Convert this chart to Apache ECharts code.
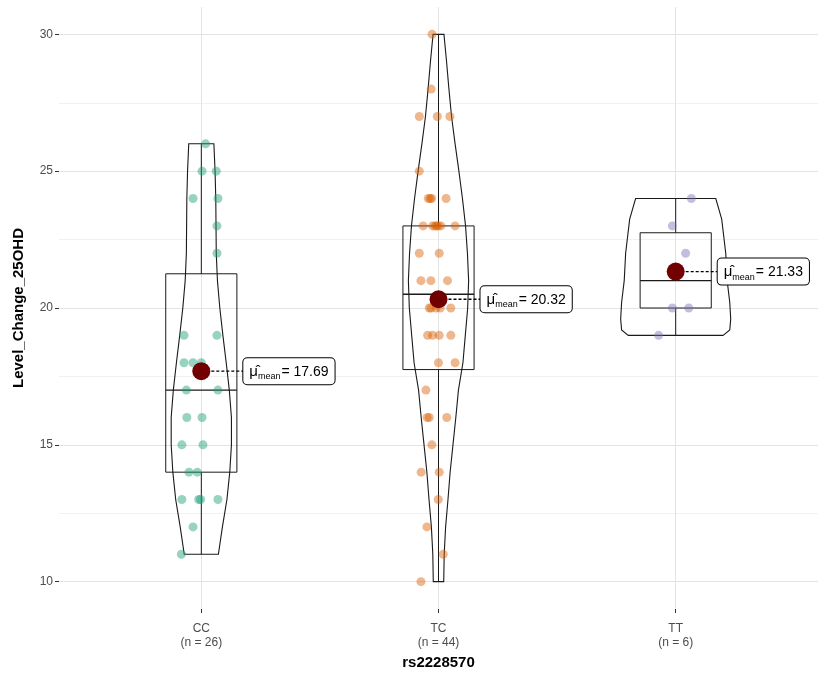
<!DOCTYPE html>
<html>
<head>
<meta charset="utf-8">
<script src="https://cdn.jsdelivr.net/npm/echarts@6.0.0/dist/echarts.min.js"></script>
<style>
html,body{margin:0;padding:0;background:#fff;}
#main{width:829px;height:679px;}
</style>
</head>
<body>
<div id="main"></div>
<script>
// groups
var groups = ['CC', 'TC', 'TT'];
var groupN = [26, 44, 6];
var colors = ['#1B9E77', '#D95F02', '#7570B3'];

// points (values + horizontal jitter, in category units)
var ccVal = [26, 25, 25, 24, 24, 23, 22, 19, 19, 18, 18, 18, 17, 17, 16, 16, 15, 15, 14, 14, 13, 13, 13, 13, 12, 11];
var ccJit = [0.018, 0.003, 0.063, -0.035, 0.070, 0.066, 0.066, -0.073, 0.066, -0.073, -0.035, 0, -0.063, 0.070, -0.061, 0.003, -0.082, 0.007, -0.052, -0.017, -0.082, -0.011, -0.003, 0.070, -0.035, -0.084];

var tcVal = [30, 28, 27, 27, 27, 25, 24, 24, 24, 24, 23, 23, 23, 23, 23, 23, 23, 22, 22, 21, 21, 21, 20, 20, 20, 20, 20, 19, 19, 19, 19, 18, 18, 17, 16, 16, 16, 15, 14, 14, 13, 12, 11, 10];
var tcJit = [-0.027, -0.031, -0.081, -0.005, 0.048, -0.081, -0.043, -0.035, -0.029, 0.032, -0.065, -0.025, -0.014, -0.001, 0.010, 0.070, -0.008, -0.081, 0.003, -0.074, -0.032, 0.038, -0.039, -0.031, -0.010, 0.007, 0.052, -0.046, -0.025, 0.003, 0.052, 0, 0.070, -0.053, -0.048, -0.039, 0.035, -0.028, -0.073, 0.003, -0.001, -0.049, 0.020, -0.074];

var ttVal = [24, 23, 22, 20, 20, 19];
var ttJit = [0.066, -0.014, 0.042, -0.014, 0.055, -0.072];

// box stats: min, q1, median, q3, max
var boxStats = [
	[11, 14, 17, 21.25, 26],
	[10, 17.75, 20.5, 23, 30],
	[19, 20, 21, 22.75, 24]
];
var means = [17.69, 20.32, 21.33];

// violin outlines: y value and half width (category units)
var ccViolinY = [11, 12, 13, 14, 15, 16, 17, 18, 19, 20, 21, 22, 23, 24, 25, 26];
var ccViolinW = [0.072, 0.089, 0.108, 0.120, 0.127, 0.127, 0.118, 0.105, 0.091, 0.078, 0.068, 0.063, 0.062, 0.061, 0.058, 0.053];
var tcViolinY = [10, 11, 12, 13, 14, 15, 16, 17, 18, 19, 20, 21, 22, 23, 24, 25, 26, 27, 28, 29, 30];
var tcViolinW = [0.022, 0.024, 0.030, 0.040, 0.049, 0.061, 0.073, 0.084, 0.103, 0.113, 0.123, 0.127, 0.122, 0.114, 0.101, 0.086, 0.070, 0.055, 0.044, 0.034, 0.023];
var ttViolinY = [19, 19.2, 19.6, 20.2, 21, 22, 23.25, 24];
var ttViolinW = [0.200, 0.228, 0.232, 0.228, 0.217, 0.211, 0.194, 0.169];

var yTicks = [10, 15, 20, 25, 30];
var yMinor = [12.5, 17.5, 22.5, 27.5];

var allVal = [ccVal, tcVal, ttVal];
var allJit = [ccJit, tcJit, ttJit];
var violinY = [ccViolinY, tcViolinY, ttViolinY];
var violinW = [ccViolinW, tcViolinW, ttViolinW];

var FONT = 'Liberation Sans';

function violinItem(params, api){
	var i = params.dataIndex;
	var ys = violinY[i], ws = violinW[i];
	var pts = [];
	for(var k = 0; k < ys.length; k++){
		pts.push(api.coord([i + 1 + ws[k], ys[k]]));
	}
	for(var k = ys.length - 1; k >= 0; k--){
		pts.push(api.coord([i + 1 - ws[k], ys[k]]));
	}
	return {
		type : 'polygon',
		shape : { points : pts },
		style : { fill : 'transparent', stroke : '#1a1a1a', lineWidth : 1.1 }
	};
}

function boxItem(params, api){
	var i = params.dataIndex, s = boxStats[i], x = i + 1, hw = 0.15;
	var lt = api.coord([x - hw, s[3]]);
	var rb = api.coord([x + hw, s[1]]);
	var m0 = api.coord([x - hw, s[2]]);
	var m1 = api.coord([x + hw, s[2]]);
	var t0 = api.coord([x, s[3]]), t1 = api.coord([x, s[4]]);
	var b0 = api.coord([x, s[1]]), b1 = api.coord([x, s[0]]);
	var ls = { stroke : '#1a1a1a', lineWidth : 1 };
	return {
		type : 'group',
		children : [
			{ type : 'rect', shape : { x : lt[0], y : lt[1], width : rb[0] - lt[0], height : rb[1] - lt[1] }, style : { fill : 'transparent', stroke : '#1a1a1a', lineWidth : 1 } },
			{ type : 'line', shape : { x1 : m0[0], y1 : m0[1], x2 : m1[0], y2 : m1[1] }, style : { stroke : '#1a1a1a', lineWidth : 1.4 } },
			{ type : 'line', shape : { x1 : t0[0], y1 : t0[1], x2 : t1[0], y2 : t1[1] }, style : ls },
			{ type : 'line', shape : { x1 : b0[0], y1 : b0[1], x2 : b1[0], y2 : b1[1] }, style : ls }
		]
	};
}

function meanLabelItem(params, api){
	var i = params.dataIndex;
	var p = api.coord([i + 1, means[i]]);
	var gap = 42;
	return {
		type : 'group',
		children : [
			{ type : 'line', shape : { x1 : p[0], y1 : p[1], x2 : p[0] + gap, y2 : p[1] }, style : { stroke : '#000', lineWidth : 1.3, lineDash : [3, 2] } },
			{
				type : 'text',
				x : p[0] + gap, y : p[1],
				style : {
					text : '{mu|\u03bc\u0302}{sub|mean}{eq|= ' + means[i].toFixed(2) + '}',
					align : 'left',
					verticalAlign : 'middle',
					backgroundColor : '#fff',
					borderColor : '#000',
					borderWidth : 1,
					borderRadius : 4,
					padding : [4, 6, 3, 6],
					rich : {
						mu : { fontFamily : FONT, fontSize : 15, color : '#000', lineHeight : 19 },
						sub : { fontFamily : FONT, fontSize : 9, color : '#000', verticalAlign : 'bottom', lineHeight : 14, padding : [7, 1, 0, 0] },
						eq : { fontFamily : FONT, fontSize : 14, color : '#000', lineHeight : 19 }
					}
				}
			}
		]
	};
}

var series = [];
series.push({
	type : 'custom', name : 'violin', renderItem : violinItem,
	data : [[1, 20], [2, 20], [3, 20]], z : 1, silent : true
});
series.push({
	type : 'custom', name : 'box', renderItem : boxItem,
	data : [[1, 20], [2, 20], [3, 20]], z : 2, silent : true
});
for(var g = 0; g < groups.length; g++){
	var d = [];
	for(var k = 0; k < allVal[g].length; k++){
		d.push([g + 1 + allJit[g][k], allVal[g][k]]);
	}
	series.push({
		type : 'scatter', name : groups[g], data : d, symbolSize : 9, z : 3,
		itemStyle : { color : colors[g], opacity : 0.45 }
	});
}
var meanData = [];
for(var g = 0; g < means.length; g++){
	meanData.push([g + 1, means[g]]);
}
series.push({
	type : 'scatter', name : 'mean', data : meanData, symbolSize : 18, z : 5,
	itemStyle : { color : '#720000', opacity : 1 }
});
series.push({
	type : 'custom', name : 'meanLabel', renderItem : meanLabelItem,
	data : [[1, 20], [2, 20], [3, 20]], z : 4, silent : true
});

var myChart = echarts.init(document.getElementById('main'));
var option = {
	animation : false,
	backgroundColor : '#fff',
	grid : { left : 59, right : 11, top : 7, bottom : 70 },
	xAxis : {
		type : 'value', min : 0.4, max : 3.6,
		name : 'rs2228570', nameLocation : 'middle', nameGap : 40,
		nameTextStyle : { fontFamily : FONT, fontSize : 15, fontWeight : 'bold', color : '#000' },
		axisLine : { show : false },
		axisTick : { show : true, customValues : [1, 2, 3], length : 4, lineStyle : { color : '#333' } },
		axisLabel : {
			customValues : [1, 2, 3], margin : 13,
			fontFamily : FONT, fontSize : 12, lineHeight : 14, color : '#4d4d4d',
			formatter : function(v){
				var i = Math.round(v) - 1;
				return groups[i] + '\n(n = ' + groupN[i] + ')';
			}
		},
		splitLine : { show : true, lineStyle : { color : '#e3e3e3', width : 1 } }
	},
	yAxis : [{
		type : 'value', min : 9, max : 31,
		name : 'Level_Change_25OHD', nameLocation : 'middle', nameGap : 33, nameRotate : 90,
		nameTextStyle : { fontFamily : FONT, fontSize : 15, fontWeight : 'bold', color : '#000' },
		axisLine : { show : false },
		axisTick : { show : true, customValues : yTicks, length : 4, lineStyle : { color : '#333' } },
		axisLabel : { customValues : yTicks, fontFamily : FONT, fontSize : 12, color : '#4d4d4d', margin : 6 },
		splitLine : { show : true, lineStyle : { color : '#e3e3e3', width : 1 } }
	}, {
		type : 'value', min : 9, max : 31, position : 'left',
		axisLine : { show : false },
		axisTick : { show : false, customValues : yMinor },
		axisLabel : { show : false, customValues : yMinor },
		splitLine : { show : true, lineStyle : { color : '#ededed', width : 0.8 } }
	}],
	series : series
};
myChart.setOption(option);
</script>
</body>
</html>
